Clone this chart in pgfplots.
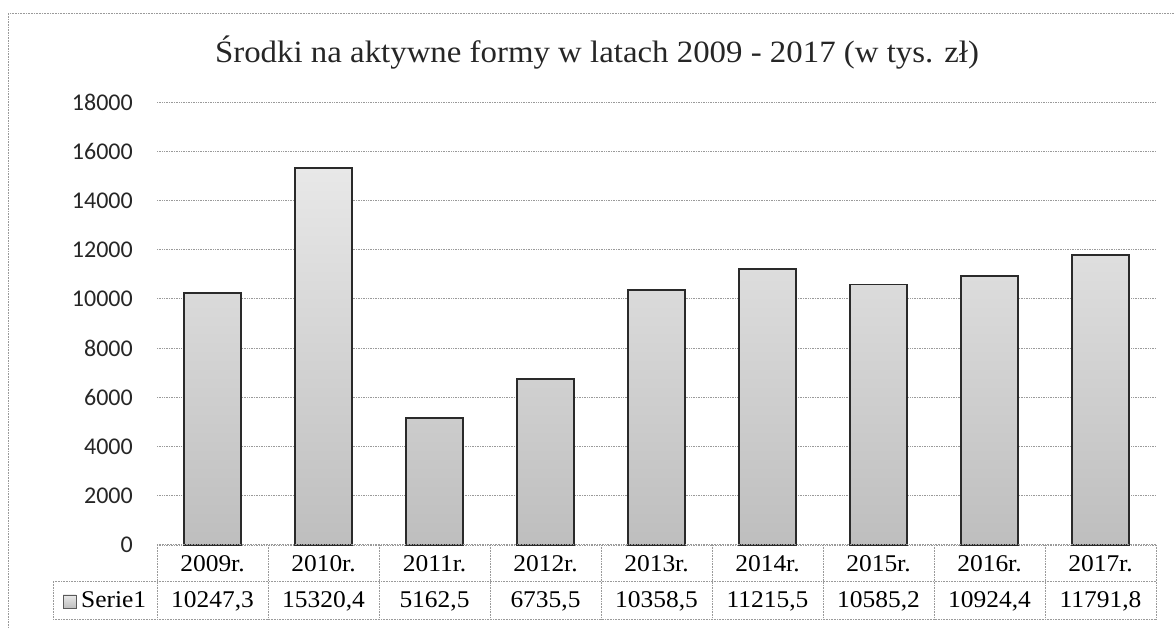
\documentclass[border=0pt]{standalone}
\usepackage{fontspec}
\setmainfont{Liberation Serif}[FakeStretch=1.06]
\newfontfamily\tickfont{Carlito}
\usepackage{pgfplots}
\pgfplotsset{compat=1.18}
\definecolor{gridgray}{HTML}{9A9A9A}
\definecolor{bartop}{HTML}{E8E8E8}
\definecolor{barbot}{HTML}{BEBEBE}
\definecolor{baredge}{HTML}{2A2A2A}

\begin{document}
\begin{tikzpicture}
\path[use as bounding box] (0pt,0pt) rectangle (1175pt,628pt);

\begin{axis}[
  at={(157pt,83pt)}, anchor=south west,
  scale only axis, width=999pt, height=443pt,
  xmin=-0.5, xmax=8.5, ymin=0, ymax=18000,
  ybar, bar width=57pt,
  axis line style={draw=none},
  major tick length=0pt,
  xtick=\empty,
  ytick={0,2000,...,18000},
  scaled y ticks=false,
  ymajorgrids,
  major grid style={draw=gridgray, line width=0.9pt, dash pattern=on 1pt off 0.7pt},
  yticklabel style={font=\tickfont\fontsize{24}{27}\selectfont, text=black!85, inner sep=0pt, xshift=-24pt},
  /pgf/number format/assume math mode=true,
  /pgf/number format/1000 sep={},
  clip=false,
]
\addplot[draw=baredge, line width=1.8pt, top color=bartop, bottom color=barbot]
  coordinates {(0,10247.3) (1,15320.4) (2,5162.5) (3,6735.5) (4,10358.5)
               (5,11215.5) (6,10585.2) (7,10924.4) (8,11791.8)};
\end{axis}

\begin{scope}[x=1pt,y=1pt]
% chart frame (left and top only visible)
\draw[gridgray, line width=1pt, dash pattern=on 1pt off 0.6pt] (8,0) -- (8,614) -- (1175,614);
\node[anchor=base, font=\fontsize{31}{35}\selectfont, text=black!85] at (597,565)
  {Środki na aktywne formy w latach 2009 - 2017 (w tys. zł)};
% data table under the axis
\begin{scope}[gridgray, line width=1pt, dash pattern=on 1pt off 0.6pt]
\draw (157,83) -- (1156,83);
\draw (53,46) -- (1156,46);
\draw (53,8) -- (1156,8);
\draw (53,46) -- (53,8);
\foreach \k in {0,...,9} { \draw ({157+111*\k},83) -- ({157+111*\k},8); }
\end{scope}
\shade[top color=bartop, bottom color=barbot, draw=gray!70!black, line width=0.8pt] (63,20) rectangle (76,33);
\node[anchor=base west, inner sep=0pt, font=\fontsize{24}{28}\selectfont] at (81,20) {Serie1};
\foreach \y [count=\i from 0] in {2009r.,2010r.,2011r.,2012r.,2013r.,2014r.,2015r.,2016r.,2017r.}
  \node[anchor=base, inner sep=0pt, font=\fontsize{24}{28}\selectfont] at ({212.5+111*\i},56) {\y};
\foreach \v [count=\i from 0] in {{10247,3},{15320,4},{5162,5},{6735,5},{10358,5},{11215,5},{10585,2},{10924,4},{11791,8}}
  \node[anchor=base, inner sep=0pt, font=\fontsize{24}{28}\selectfont] at ({212.5+111*\i},20) {\v};
\end{scope}
\end{tikzpicture}
\end{document}
